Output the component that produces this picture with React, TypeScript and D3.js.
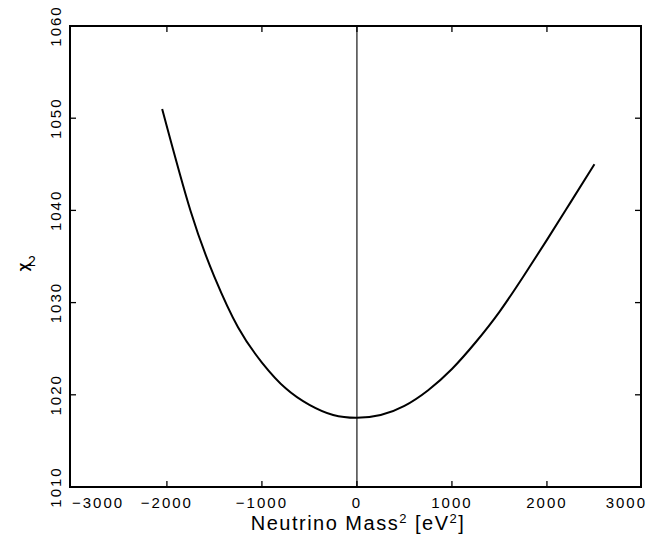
import React from 'react';
import { scaleLinear, line, curveNatural } from 'd3';

const width = 660;
const height = 535;
const margins = { top: 26, right: 19, bottom: 48, left: 70 };

// chi^2 curve
const massSq = [-2050, -1750, -1500, -1250, -1000, -750, -500, -250, 0, 250, 500, 750, 1000, 1250, 1500, 1750, 2000, 2250, 2500];
const chiSq = [1051.0, 1039.9, 1032.8, 1027.3, 1023.5, 1020.7, 1018.9, 1017.8, 1017.5, 1017.8, 1018.8, 1020.5, 1022.8, 1025.7, 1029.0, 1032.8, 1036.8, 1040.9, 1045.0];

const xTicks = [-3000, -2000, -1000, 0, 1000, 2000, 3000];
const yTicks = [1010, 1020, 1030, 1040, 1050, 1060];

const font = "'Liberation Sans', Arial, sans-serif";

export default function App() {
  const x = scaleLinear().domain([-3020, 2990]).range([margins.left, width - margins.right]);
  const y = scaleLinear().domain([1010, 1060]).range([height - margins.bottom, margins.top]);

  const pts = massSq.map((m, i) => [m, chiSq[i]] as [number, number]);
  const path = line<[number, number]>()
    .x((d) => x(d[0]))
    .y((d) => y(d[1]))
    .curve(curveNatural)(pts);

  const x0 = margins.left;
  const x1 = width - margins.right;
  const y0 = margins.top;
  const y1 = height - margins.bottom;
  const tk = 6;

  return (
    <svg width={width} height={height} style={{ position: 'absolute', left: 0, top: 0, background: '#fff' }}>
      {/* zero line */}
      <line x1={x(0)} x2={x(0)} y1={y0} y2={y1} stroke="#000" strokeWidth={1.1} />

      {/* x ticks top & bottom */}
      {xTicks.slice(1, -1).map((t) => (
        <g key={'xt' + t}>
          <line x1={x(t)} x2={x(t)} y1={y1} y2={y1 - tk} stroke="#000" strokeWidth={1.3} />
          <line x1={x(t)} x2={x(t)} y1={y0} y2={y0 + tk} stroke="#000" strokeWidth={1.3} />
        </g>
      ))}
      {/* y ticks left & right */}
      {yTicks.slice(1, -1).map((t) => (
        <g key={'yt' + t}>
          <line x1={x0} x2={x0 + tk} y1={y(t)} y2={y(t)} stroke="#000" strokeWidth={1.3} />
          <line x1={x1} x2={x1 - tk} y1={y(t)} y2={y(t)} stroke="#000" strokeWidth={1.3} />
        </g>
      ))}

      <rect x={x0} y={y0} width={x1 - x0} height={y1 - y0} fill="none" stroke="#000" strokeWidth={2} />

      <path d={path || ''} fill="none" stroke="#000" strokeWidth={2} />

      {/* x tick labels */}
      {xTicks.map((t, i) => {
        const label = t < 0 ? '\u2212' + Math.abs(t) : String(t);
        let anchor = 'middle';
        let px = x(t);
        if (i === 0) { anchor = 'start'; px = x0 + 2; }
        if (i === xTicks.length - 1) { anchor = 'end'; px = x1 + 6; }
        return (
          <text key={'xl' + t} x={px} y={508} textAnchor={anchor} fontFamily={font} fontSize={15} letterSpacing={2} fill="#000">
            {label}
          </text>
        );
      })}

      {/* y tick labels, rotated */}
      {yTicks.map((t) => (
        <text key={'yl' + t} transform={`translate(61,${y(t)}) rotate(-90)`} textAnchor="middle" fontFamily={font} fontSize={15} letterSpacing={2} fill="#000">
          {t}
        </text>
      ))}

      {/* axis titles */}
      <text x={358} y={530} textAnchor="middle" fontFamily={font} fontSize={20} letterSpacing={1.5} fill="#000">
        Neutrino Mass<tspan dy={-7} fontSize={13}>2</tspan><tspan dy={7}> [eV</tspan><tspan dy={-7} fontSize={13}>2</tspan><tspan dy={7}>]</tspan>
      </text>
      <text transform="translate(28,267) rotate(-90)" textAnchor="middle" fontFamily={font} fontSize={15} fontWeight="bold" fill="#000">
        χ
      </text>
      <text x={28} y={266} fontFamily={font} fontSize={14} fill="#000">2</text>
    </svg>
  );
}
